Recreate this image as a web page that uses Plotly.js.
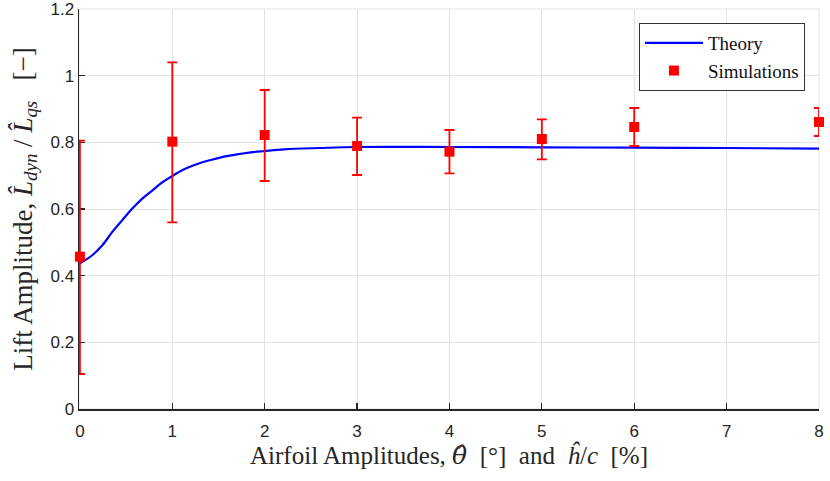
<!DOCTYPE html>
<html>
<head>
<meta charset="utf-8">
<script src="https://cdn.plot.ly/plotly-3.0.1.min.js"></script>
<style>html,body{margin:0;padding:0;background:#fff;}#chart{width:830px;height:481px;}</style>
</head>
<body>
<div id="chart"></div>
<script>
// Theory curve
var theoryX = [0, 0.137, 0.245, 0.353, 0.46, 0.57, 0.678, 0.786, 0.876, 1, 1.128, 1.27, 1.416, 1.56, 1.7, 1.85, 2, 2.21, 2.6, 3, 4, 5, 6, 7, 8];
var theoryY = [0.437, 0.462, 0.492, 0.532, 0.567, 0.602, 0.632, 0.656, 0.677, 0.699, 0.719, 0.735, 0.747, 0.757, 0.764, 0.770, 0.774, 0.779, 0.783, 0.786, 0.786, 0.785, 0.784, 0.783, 0.781];

// Simulations
var simX = [0, 1, 2, 3, 4, 5, 6, 8];
var simY = [0.457, 0.802, 0.822, 0.789, 0.772, 0.810, 0.846, 0.861];
var simUpper = [0.805, 1.040, 0.957, 0.874, 0.837, 0.869, 0.903, 0.903];
var simLower = [0.105, 0.560, 0.684, 0.702, 0.707, 0.749, 0.789, 0.819];

var xTicks = [0, 1, 2, 3, 4, 5, 6, 7, 8];
var yTicks = [0, 0.2, 0.4, 0.6, 0.8, 1, 1.2];
var yTickText = ['0', '0.2', '0.4', '0.6', '0.8', '1', '1.2'];

var errPlus = simY.map(function(v, i){ return simUpper[i] - v; });
var errMinus = simY.map(function(v, i){ return v - simLower[i]; });

var serif = '"Liberation Serif", "DejaVu Serif", serif';
var sans = '"Liberation Sans", Arial, sans-serif';

var traces = [
  {
    x: theoryX, y: theoryY, type: 'scatter', mode: 'lines', name: 'Theory',
    line: {color: '#0000ff', width: 2.2, shape: 'spline', smoothing: 1},
    cliponaxis: false
  },
  {
    x: simX, y: simY, type: 'scatter', mode: 'markers', name: 'Simulations',
    marker: {symbol: 'square', size: 10, color: '#ff0000'},
    error_y: {type: 'data', symmetric: false, array: errPlus, arrayminus: errMinus,
              color: '#ff0000', thickness: 1.8, width: 5},
    cliponaxis: false
  }
];

var sp = '&nbsp;';
var layout = {
  width: 830, height: 481,
  margin: {l: 79, r: 11, t: 9, b: 72},
  paper_bgcolor: '#fff', plot_bgcolor: '#fff',
  showlegend: true,
  legend: {
    x: 0.981, y: 0.965, xanchor: 'right', yanchor: 'top',
    bordercolor: '#333', borderwidth: 1, bgcolor: '#fff',
    font: {family: serif, size: 19, color: '#111'},
    tracegroupgap: 0, itemwidth: 58
  },
  shapes: [{
    type: 'rect', xref: 'paper', yref: 'paper', x0: 0, x1: 1, y0: 0, y1: 1,
    line: {color: '#e3e3e3', width: 1}, layer: 'below'
  }],
  xaxis: {
    range: [-0.01, 8], tickvals: xTicks, ticktext: xTicks.map(String),
    showgrid: true, gridcolor: '#e3e3e3', gridwidth: 1,
    showline: true, linecolor: '#262626', linewidth: 1.5,
    ticks: 'inside', ticklen: 6, tickcolor: '#262626', tickwidth: 1.2,
    zeroline: false, layer: 'below traces',
    ticklabelstandoff: 6, ticklabeloverflow: 'allow',
    tickfont: {family: sans, size: 17, color: '#262626'},
    title: {text: 'Airfoil Amplitudes,' + sp + '<i><span style="font-family:DejaVu Serif">θ̂</span></i>' + sp + sp + '[°]' + sp + sp + 'and' + sp + sp + '<i>ĥ</i>/<i>c</i>' + sp + sp + '[%]',
            font: {family: serif, size: 25, color: '#262626'}, standoff: 3}
  },
  yaxis: {
    range: [0, 1.2], tickvals: yTicks, ticktext: yTickText,
    showgrid: true, gridcolor: '#e3e3e3', gridwidth: 1,
    showline: true, linecolor: '#262626', linewidth: 1.5,
    ticks: 'inside', ticklen: 6, tickcolor: '#262626', tickwidth: 1.2,
    zeroline: false, layer: 'below traces', ticklabeloverflow: 'allow',
    tickfont: {family: sans, size: 17, color: '#262626'},
    title: {text: 'Lift Amplitude,' + sp + '<i>L̂</i><sub><i>dyn</i></sub>' + sp + '/' + sp + '<i>L̂</i><sub><i>qs</i></sub>' + sp + sp + sp + '[−]',
            font: {family: serif, size: 27, color: '#262626'}, standoff: 10}
  }
};

Plotly.newPlot('chart', traces, layout, {displayModeBar: false, staticPlot: true});
</script>
</body>
</html>
